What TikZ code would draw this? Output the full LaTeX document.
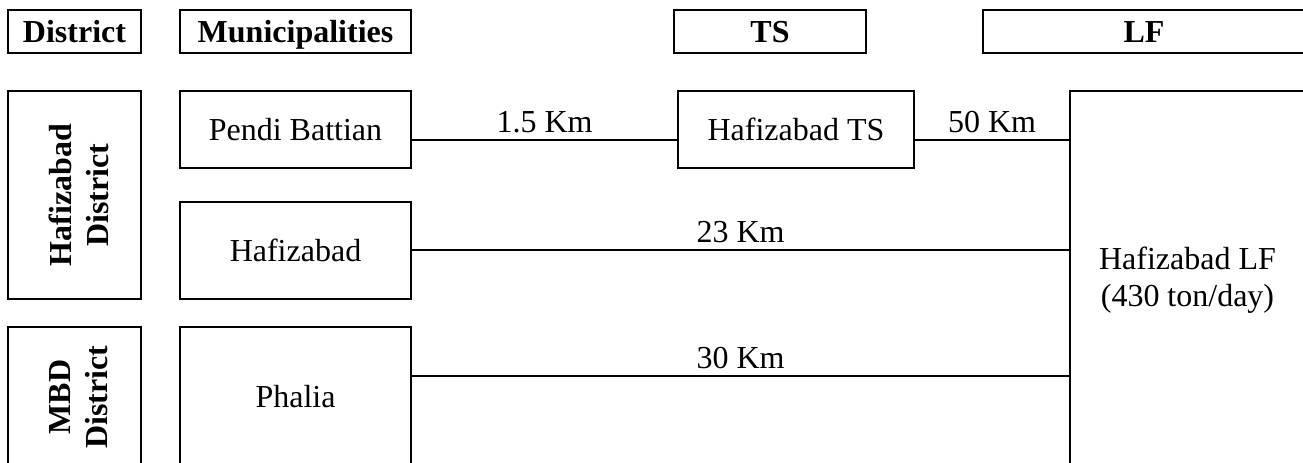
\documentclass[tikz,border=0pt]{standalone}
\usepackage{fontspec}
\setmainfont{Liberation Serif}
\begin{document}
\begin{tikzpicture}[x=0.5pt,y=-0.5pt,
  box/.style={draw, line width=0.7pt, inner sep=0pt, align=center, font=\fontsize{16}{18.4}\selectfont},
  hdr/.style={box, font=\fontsize{16}{18.4}\selectfont\bfseries, minimum height=21.5pt, text height=11pt, text depth=0pt},
  vlabel/.style={rotate=90, align=center, font=\fontsize{16}{18.4}\selectfont\bfseries},
  link/.style={line width=0.7pt},
  dist/.style={font=\fontsize{16}{18.4}\selectfont, inner sep=3pt, above}]
\useasboundingbox (0,0) rectangle (1303,462);
\clip (0,0) rectangle (1303,462);
% headers
\node[hdr, minimum width=66.5pt] (hd) at (74.5,31.5) {District};
\node[hdr, minimum width=115.5pt] (hm) at (295.5,31.5) {Municipalities};
\node[hdr, minimum width=96pt] (hts) at (770,31.5) {TS};
\node[hdr, minimum width=161pt] (hlf) at (1144,31.5) {LF};
% districts
\node[box, minimum width=66.5pt, minimum height=104pt] (hdist) at (74.5,195) {};
\node[vlabel] (hdistt) at ([xshift=2pt]hdist.center) {Hafizabad\\District};
\node[box, minimum width=66.5pt, minimum height=70pt] (mdist) at (74.5,397) {};
\node[vlabel] (mdistt) at ([xshift=2pt]mdist.center) {MBD\\District};
% municipalities
\node[box, minimum width=115.5pt, minimum height=38.5pt] (pb) at (295.5,129.5) {Pendi Battian};
\node[box, minimum width=115.5pt, minimum height=48.5pt] (hz) at (295.5,250.5) {Hafizabad};
\node[box, minimum width=115.5pt, minimum height=70pt] (ph) at (295.5,397) {Phalia};
% TS and LF
\node[box, minimum width=118pt, minimum height=38.5pt] (ts) at (796,129.5) {Hafizabad TS};
\node[box, minimum width=117.5pt, minimum height=189.5pt] (lf) at (1187.5,280.5) {Hafizabad LF\\(430 ton/day)};
% connectors
\coordinate (r1) at (0,140);
\coordinate (r2) at (0,250);
\coordinate (r3) at (0,376);
\draw[link] (pb.east |- r1) -- node[dist] {1.5 Km} (ts.west |- r1);
\draw[link] (ts.east |- r1) -- node[dist] {50 Km} (lf.west |- r1);
\draw[link] (hz.east |- r2) -- node[dist] {23 Km} (lf.west |- r2);
\draw[link] (ph.east |- r3) -- node[dist] {30 Km} (lf.west |- r3);
\end{tikzpicture}
\end{document}
